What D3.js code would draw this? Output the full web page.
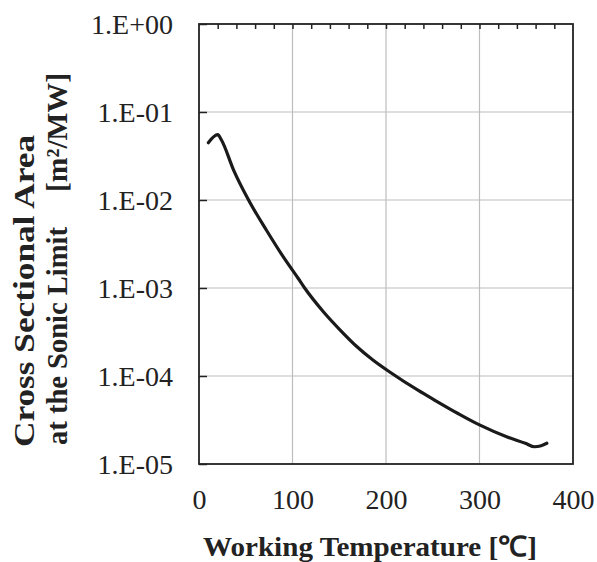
<!DOCTYPE html>
<html>
<head>
<meta charset="utf-8">
<script src="https://cdn.jsdelivr.net/npm/d3@7/dist/d3.min.js"></script>
<style>
  html, body { margin: 0; padding: 0; background: #fff; }
  svg { display: block; }
  text { font-family: "Liberation Serif", "Times New Roman", serif; fill: #222; }
</style>
</head>
<body>
<svg id="chart" width="597" height="562"></svg>
<script>
// Working temperature (°C)
const temps = [10, 20, 24, 37, 53, 72, 90, 106, 113, 133, 151, 169, 186, 204, 235, 251, 277, 300, 329, 349, 359, 365, 372];
// Cross sectional area at the sonic limit (m²/MW)
const areas = [0.0448, 0.0552, 0.0481, 0.0219, 0.0100, 0.00456, 0.00227, 0.00129, 0.00100, 5.38e-4, 3.33e-4, 2.15e-4, 1.52e-4, 1.11e-4, 6.8e-5, 5.4e-5, 3.75e-5, 2.78e-5, 2.04e-5, 1.72e-5, 1.57e-5, 1.60e-5, 1.72e-5];
const xTicks = [0, 100, 200, 300, 400];
const xMinorTicks = [20, 40, 60, 80, 100, 120, 140, 160, 180, 200, 220, 240, 260, 280, 300, 320, 340, 360, 380];
const yTicks = [1, 1e-1, 1e-2, 1e-3, 1e-4, 1e-5];
const yTickLabels = ["1.E+00", "1.E-01", "1.E-02", "1.E-03", "1.E-04", "1.E-05"];
const xTitle = "Working Temperature [\u2103]";
const yTitleLine1 = "Cross Sectional Area";
const yTitleLine2 = "at the Sonic Limit";
const yUnit = "[m\u00B2/MW]";

const svg = d3.select("#chart");
const L = 199, R = 573, T = 24, B = 464;
const x = d3.scaleLinear().domain([0, 400]).range([L, R]);
const y = d3.scaleLog().domain([1e-5, 1]).range([B, T]);

// gridlines
const grid = svg.append("g").attr("stroke", "#bdbdbd").attr("stroke-width", 1.2);
grid.selectAll(".gx").data(xTicks.slice(1, -1)).join("line")
  .attr("x1", d => x(d)).attr("x2", d => x(d)).attr("y1", T).attr("y2", B);
grid.selectAll(".gy").data(yTicks.slice(1, -1)).join("line")
  .attr("x1", L).attr("x2", R).attr("y1", d => y(d)).attr("y2", d => y(d));

// top minor ticks (pointing into plot)
const topAxis = d3.axisTop(x).tickValues(xMinorTicks).tickSize(-5).tickFormat("");
const gTop = svg.append("g").attr("transform", `translate(0,${T})`).call(topAxis);
gTop.select(".domain").remove();
gTop.selectAll(".tick line").attr("stroke", "#222").attr("stroke-width", 1.5);

// left ticks (inside) with labels
const leftAxis = d3.axisLeft(y).tickValues(yTicks).tickSize(-8).tickPadding(26)
  .tickFormat((d, i) => yTickLabels[i]);
const gLeft = svg.append("g").attr("transform", `translate(${L},0)`).call(leftAxis);
gLeft.select(".domain").remove();
gLeft.selectAll(".tick line").attr("stroke", "#222").attr("stroke-width", 1.5);
gLeft.selectAll(".tick text").attr("font-family", "Liberation Serif").attr("font-size", 28)
  .attr("fill", "#222").attr("dy", "0.35em");

// bottom labels
const bottomAxis = d3.axisBottom(x).tickValues(xTicks).tickSize(0).tickPadding(25);
const gBot = svg.append("g").attr("transform", `translate(0,${B})`).call(bottomAxis);
gBot.select(".domain").remove();
gBot.selectAll(".tick text").attr("font-family", "Liberation Serif").attr("font-size", 28)
  .attr("fill", "#222");

// frame
svg.append("rect").attr("x", L).attr("y", T).attr("width", R - L).attr("height", B - T)
  .attr("fill", "none").attr("stroke", "#222").attr("stroke-width", 1.8);

// curve
const line = d3.line().x((d, i) => x(temps[i])).y(d => y(d)).curve(d3.curveMonotoneX);
svg.append("path").attr("d", line(areas)).attr("fill", "none")
  .attr("stroke", "#1a1a1a").attr("stroke-width", 3.2).attr("stroke-linejoin", "round")
  .attr("stroke-linecap", "round");

// x title
svg.append("text").attr("x", 370).attr("y", 556).attr("text-anchor", "middle")
  .attr("font-size", 28).attr("font-weight", "bold")
  .attr("textLength", 334).attr("lengthAdjust", "spacingAndGlyphs").text(xTitle);

// y title
svg.append("text").attr("transform", "translate(34,447) rotate(-90)")
  .attr("font-size", 30).attr("font-weight", "bold")
  .attr("textLength", 312).attr("lengthAdjust", "spacingAndGlyphs").text(yTitleLine1);
svg.append("text").attr("transform", "translate(67,445) rotate(-90)")
  .attr("font-size", 30).attr("font-weight", "bold")
  .attr("textLength", 218).attr("lengthAdjust", "spacingAndGlyphs").text(yTitleLine2);
svg.append("text").attr("transform", "translate(67,192) rotate(-90)")
  .attr("font-size", 30).attr("font-weight", "bold")
  .attr("textLength", 119).attr("lengthAdjust", "spacingAndGlyphs").text(yUnit);
</script>
</body>
</html>
